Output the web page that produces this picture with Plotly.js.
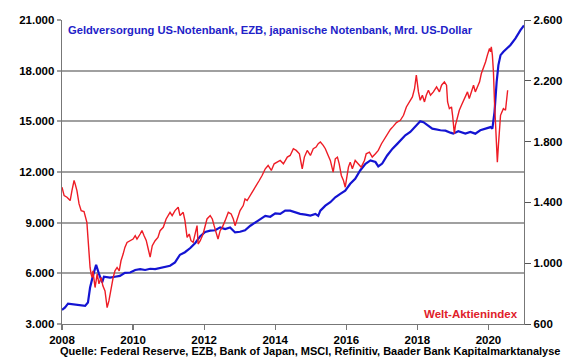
<!DOCTYPE html>
<html><head><meta charset="utf-8">
<script src="https://cdn.plot.ly/plotly-3.0.1.min.js"></script>
<style>html,body{margin:0;padding:0;background:#fff}#c{width:580px;height:359px}</style>
</head><body><div id="c"></div>
<script>
// Geldversorgung (Mrd. US-Dollar), linke Achse
const moneyYears = [2008.00,2008.08,2008.17,2008.37,2008.51,2008.65,2008.73,2008.79,2008.87,2008.96,2009.04,2009.13,2009.18,2009.35,2009.49,2009.63,2009.77,2009.92,2010.06,2010.20,2010.34,2010.48,2010.62,2010.76,2010.90,2011.04,2011.18,2011.32,2011.46,2011.61,2011.75,2011.89,2012.03,2012.17,2012.31,2012.45,2012.59,2012.73,2012.87,2013.01,2013.15,2013.30,2013.52,2013.72,2013.86,2014.00,2014.14,2014.28,2014.42,2014.56,2014.70,2014.85,2014.99,2015.13,2015.21,2015.27,2015.41,2015.55,2015.69,2015.83,2015.97,2016.11,2016.25,2016.39,2016.54,2016.68,2016.82,2016.90,2017.01,2017.15,2017.30,2017.44,2017.52,2017.66,2017.80,2017.94,2018.08,2018.17,2018.28,2018.42,2018.65,2018.79,2018.93,2019.01,2019.15,2019.35,2019.49,2019.63,2019.77,2019.92,2020.06,2020.11,2020.17,2020.23,2020.28,2020.34,2020.42,2020.62,2020.76,2020.90,2021.00];
const moneySupply = [3830,3970,4210,4160,4150,4070,4270,5160,5850,6500,5970,5460,5800,5750,5800,5850,6030,6050,6200,6250,6200,6270,6250,6330,6380,6450,6650,7100,7250,7500,7800,8200,8450,8530,8550,8720,8620,8720,8420,8460,8550,8820,9120,9400,9350,9550,9520,9710,9710,9610,9520,9480,9420,9520,9400,9710,10010,10210,10500,10710,10900,11300,11600,12090,12490,12690,12590,12330,12500,12980,13380,13680,13870,14170,14370,14660,15000,14950,14760,14570,14470,14450,14330,14270,14410,14270,14370,14270,14470,14570,14660,14570,15550,17330,18330,18920,19120,19520,19910,20400,20680];

// Welt-Aktienindex, rechte Achse
const stockYears = [2008.00,2008.06,2008.14,2008.23,2008.28,2008.34,2008.37,2008.42,2008.48,2008.54,2008.62,2008.68,2008.70,2008.73,2008.76,2008.79,2008.82,2008.85,2008.87,2008.90,2008.93,2008.96,2008.99,2009.04,2009.10,2009.15,2009.21,2009.24,2009.27,2009.32,2009.38,2009.44,2009.49,2009.55,2009.61,2009.66,2009.72,2009.77,2009.83,2009.92,2010.00,2010.06,2010.11,2010.20,2010.25,2010.31,2010.37,2010.42,2010.48,2010.54,2010.62,2010.70,2010.76,2010.85,2010.93,2011.04,2011.10,2011.18,2011.27,2011.32,2011.41,2011.46,2011.52,2011.58,2011.63,2011.69,2011.75,2011.80,2011.83,2011.89,2011.97,2012.03,2012.08,2012.17,2012.23,2012.28,2012.34,2012.39,2012.45,2012.51,2012.59,2012.68,2012.76,2012.82,2012.87,2012.96,2013.01,2013.10,2013.15,2013.21,2013.30,2013.38,2013.46,2013.55,2013.63,2013.72,2013.80,2013.89,2013.97,2014.08,2014.14,2014.23,2014.34,2014.42,2014.51,2014.59,2014.68,2014.76,2014.82,2014.90,2014.99,2015.07,2015.15,2015.21,2015.27,2015.35,2015.41,2015.49,2015.55,2015.63,2015.69,2015.75,2015.80,2015.86,2015.92,2015.97,2016.00,2016.06,2016.11,2016.17,2016.25,2016.34,2016.42,2016.51,2016.56,2016.65,2016.73,2016.82,2016.90,2016.99,2017.07,2017.15,2017.24,2017.32,2017.41,2017.52,2017.61,2017.69,2017.77,2017.86,2017.92,2017.97,2018.03,2018.08,2018.14,2018.20,2018.25,2018.31,2018.37,2018.45,2018.54,2018.62,2018.68,2018.76,2018.82,2018.85,2018.90,2018.96,2018.99,2019.01,2019.04,2019.07,2019.13,2019.18,2019.24,2019.30,2019.35,2019.41,2019.46,2019.52,2019.58,2019.63,2019.69,2019.75,2019.80,2019.86,2019.92,2019.97,2020.03,2020.06,2020.08,2020.11,2020.14,2020.17,2020.20,2020.23,2020.25,2020.28,2020.31,2020.34,2020.37,2020.42,2020.48,2020.51,2020.54];
const stockIndex = [1500,1445,1434,1412,1478,1544,1522,1478,1390,1346,1340,1291,1269,1170,1062,972,928,906,950,895,840,884,930,864,906,851,818,763,708,752,840,906,950,972,950,1016,1060,1104,1137,1148,1159,1181,1159,1192,1215,1180,1150,1100,1040,1115,1148,1170,1214,1236,1291,1335,1313,1346,1368,1313,1335,1280,1170,1192,1148,1137,1192,1247,1126,1148,1192,1258,1291,1313,1291,1247,1192,1159,1214,1236,1280,1335,1324,1291,1247,1302,1346,1379,1423,1412,1445,1478,1511,1544,1577,1621,1643,1610,1654,1665,1676,1654,1698,1709,1753,1742,1720,1621,1698,1742,1709,1753,1764,1786,1797,1775,1753,1709,1676,1599,1687,1698,1654,1577,1544,1500,1544,1632,1665,1621,1676,1654,1632,1676,1720,1731,1698,1720,1742,1786,1819,1852,1880,1900,1925,1940,1973,2028,2061,2094,2149,2237,2127,2072,2105,2061,2105,2138,2105,2127,2160,2127,2171,2193,2171,2061,2017,2028,1973,1907,1852,1907,1973,2006,2039,2072,2105,2127,2083,2127,2171,2127,2160,2193,2248,2281,2325,2369,2413,2390,2424,2369,2259,2061,1863,1753,1665,1775,1885,1973,1990,2017,2006,2061,2138];

const xTicks = [2008,2010,2012,2014,2016,2018,2020];
const leftTicks = [3000,6000,9000,12000,15000,18000,21000];
const rightTicks = [600,1000,1400,1800,2200,2600];

const titleText = "Geldversorgung US-Notenbank, EZB, japanische Notenbank, Mrd. US-Dollar";
const stockLabel = "Welt-Aktienindex";
const sourceText = "Quelle: Federal Reserve, EZB, Bank of Japan, MSCI, Refinitiv, Baader Bank Kapitalmarktanalyse";

const F = "Arial, 'Liberation Sans', sans-serif";

const traces = [
  {x: stockYears, y: stockIndex, yaxis: "y2", type: "scatter", mode: "lines",
   line: {color: "#ee1c25", width: 1.4}, hoverinfo: "skip"},
  {x: moneyYears, y: moneySupply, yaxis: "y", type: "scatter", mode: "lines",
   line: {color: "#1414d2", width: 2.2}, hoverinfo: "skip"}
];

const layout = {
  width: 580, height: 359,
  margin: {l: 62, r: 56, t: 20, b: 35, pad: 0},
  paper_bgcolor: "#fff", plot_bgcolor: "#fff",
  showlegend: false,
  separators: ",.",
  font: {family: F, size: 11.5, color: "#000"},
  xaxis: {
    range: [2008, 2021], tickvals: xTicks, ticktext: xTicks.map(String),
    showgrid: false, zeroline: false,
    showline: true, linecolor: "#777", linewidth: 1.3,
    ticks: "outside", ticklen: 5, tickcolor: "#777", tickwidth: 1.3,
    tickfont: {family: F, size: 11.5, color: "#000", weight: "bold"}
  },
  yaxis: {
    range: [3000, 21000], tickvals: leftTicks, tickformat: ",d",
    showgrid: true, gridcolor: "#a0a0a0", gridwidth: 2,
    zeroline: false, showline: true, linecolor: "#777", linewidth: 1.3,
    ticks: "outside", ticklen: 4, tickcolor: "#a0a0a0", tickwidth: 2,
    tickfont: {family: F, size: 11.5, color: "#000", weight: "bold"}
  },
  yaxis2: {
    range: [600, 2600], tickvals: rightTicks, tickformat: ",d",
    overlaying: "y", side: "right",
    showgrid: false, zeroline: false, showline: true, linecolor: "#777", linewidth: 1.3,
    ticks: "outside", ticklen: 6, tickcolor: "#555", tickwidth: 1,
    tickfont: {family: F, size: 11.5, color: "#000", weight: "bold"}
  },
  annotations: [
    {text: titleText, xref: "paper", yref: "paper", x: 0.009, y: 0.967,
     xanchor: "left", yanchor: "middle", showarrow: false,
     font: {family: F, size: 11.2, color: "#2222c8", weight: "bold"}},
    {text: stockLabel, xref: "paper", yref: "paper", x: 0.991, y: 0.033,
     xanchor: "right", yanchor: "middle", showarrow: false,
     font: {family: F, size: 11.5, color: "#e0202a", weight: "bold"}},
    {text: sourceText, xref: "paper", yref: "paper", x: -0.009, y: -0.089,
     xanchor: "left", yanchor: "middle", showarrow: false,
     font: {family: F, size: 11, color: "#000", weight: "bold"}}
  ]
};

Plotly.newPlot("c", traces, layout, {staticPlot: true, displayModeBar: false});
</script>
</body></html>
